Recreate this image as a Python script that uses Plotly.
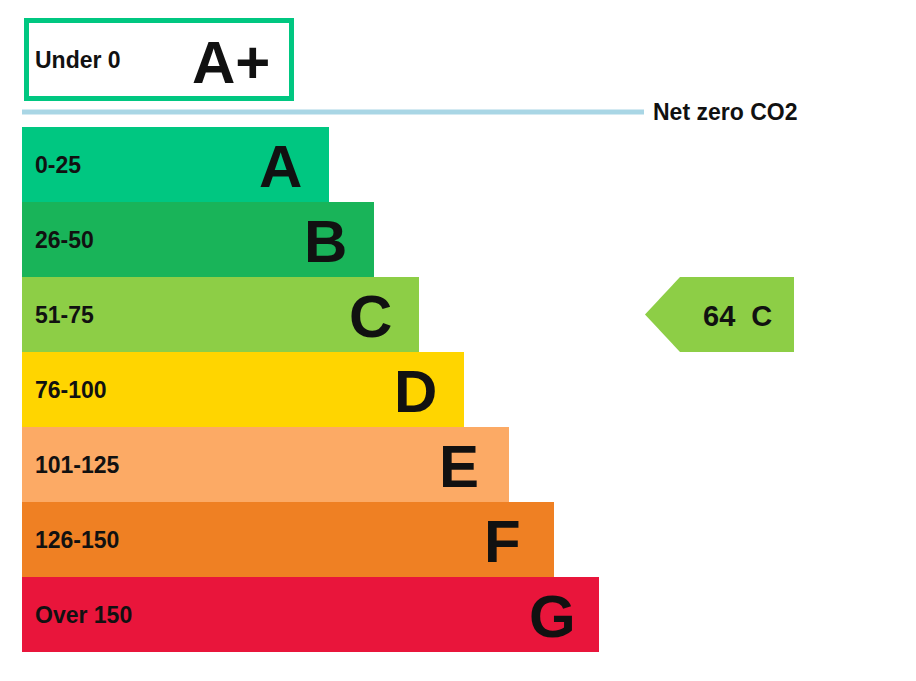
import plotly.graph_objects as go

# ---- data ----
bands = ["A", "B", "C", "D", "E", "F", "G"]
ranges = ["0-25", "26-50", "51-75", "76-100", "101-125", "126-150", "Over 150"]
band_colors = ["#00c781", "#19b459", "#8dce46", "#ffd500", "#fcaa65", "#ef8023", "#e9153b"]
top_band = "A+"
top_range = "Under 0"
net_zero_label = "Net zero CO2"
current_score = 64
current_band = "C"

W, H = 916, 681
OFF = 8  # page body margin
FONT = "Liberation Sans, Arial, sans-serif"

# layout geometry (pixel-like axis units)
x0 = 22
row_h = 75
row_top = 127
base_len = 307
step = 45

centers = [row_top + row_h * (i + 0.5) for i in range(len(bands))]
lengths = [base_len + step * i for i in range(len(bands))]

fig = go.Figure()
fig.add_trace(go.Bar(
    orientation="h",
    y=centers,
    x=lengths,
    base=x0,
    width=row_h,
    marker=dict(color=band_colors, line=dict(width=0)),
    hoverinfo="skip",
    showlegend=False,
))

annotations = []
for i, b in enumerate(bands):
    annotations.append(dict(x=33, y=centers[i], text="<b>%s</b>" % ranges[i], showarrow=False,
                            xanchor="left", yanchor="middle",
                            font=dict(family=FONT, size=23, color="#111")))
    annotations.append(dict(x=x0 + lengths[i] - 72, y=centers[i] + 2, text="<b>%s</b>" % b, showarrow=False,
                            xanchor="left", yanchor="middle",
                            font=dict(family=FONT, size=60, color="#111")))

shapes = []
# A+ box
shapes.append(dict(type="rect", x0=26.5, x1=291.5, y0=20.5, y1=98.5,
                   line=dict(color="#00c781", width=5), fillcolor="rgba(0,0,0,0)"))
annotations.append(dict(x=33, y=60, text="<b>%s</b>" % top_range, showarrow=False,
                        xanchor="left", yanchor="middle",
                        font=dict(family=FONT, size=23, color="#111")))
annotations.append(dict(x=272, y=62, text="<b>%s</b>" % top_band, showarrow=False,
                        xanchor="right", yanchor="middle",
                        font=dict(family=FONT, size=60, color="#111")))
# net zero line
shapes.append(dict(type="line", x0=x0, x1=644, y0=112, y1=112,
                   line=dict(color="#a9d6e5", width=5)))
annotations.append(dict(x=651, y=112, text="<b>%s</b>" % net_zero_label, showarrow=False,
                        xanchor="left", yanchor="middle",
                        font=dict(family=FONT, size=23, color="#111")))

# current rating arrow
ci = bands.index(current_band)
cy = centers[ci]
top = cy - row_h / 2
bot = cy + row_h / 2
tip_x, neck_x, end_x = 645, 680, 794
path = "M %f %f L %f %f L %f %f L %f %f L %f %f Z" % (
    tip_x, cy, neck_x, top, end_x, top, end_x, bot, neck_x, bot)
shapes.append(dict(type="path", path=path, fillcolor=band_colors[ci], line=dict(width=0)))
annotations.append(dict(x=737, y=cy + 1, text="<b>%d\u00a0\u00a0%s</b>" % (current_score, current_band),
                        showarrow=False, xanchor="center", yanchor="middle",
                        font=dict(family=FONT, size=29, color="#111")))

fig.update_layout(
    width=W, height=H,
    margin=dict(l=0, r=0, t=0, b=0),
    paper_bgcolor="white", plot_bgcolor="white",
    xaxis=dict(range=[OFF, W + OFF], visible=False, fixedrange=True),
    yaxis=dict(range=[H + OFF, OFF], visible=False, fixedrange=True),
    shapes=shapes,
    annotations=annotations,
    bargap=0,
)

fig.write_html("out.html", config={"displayModeBar": False})
